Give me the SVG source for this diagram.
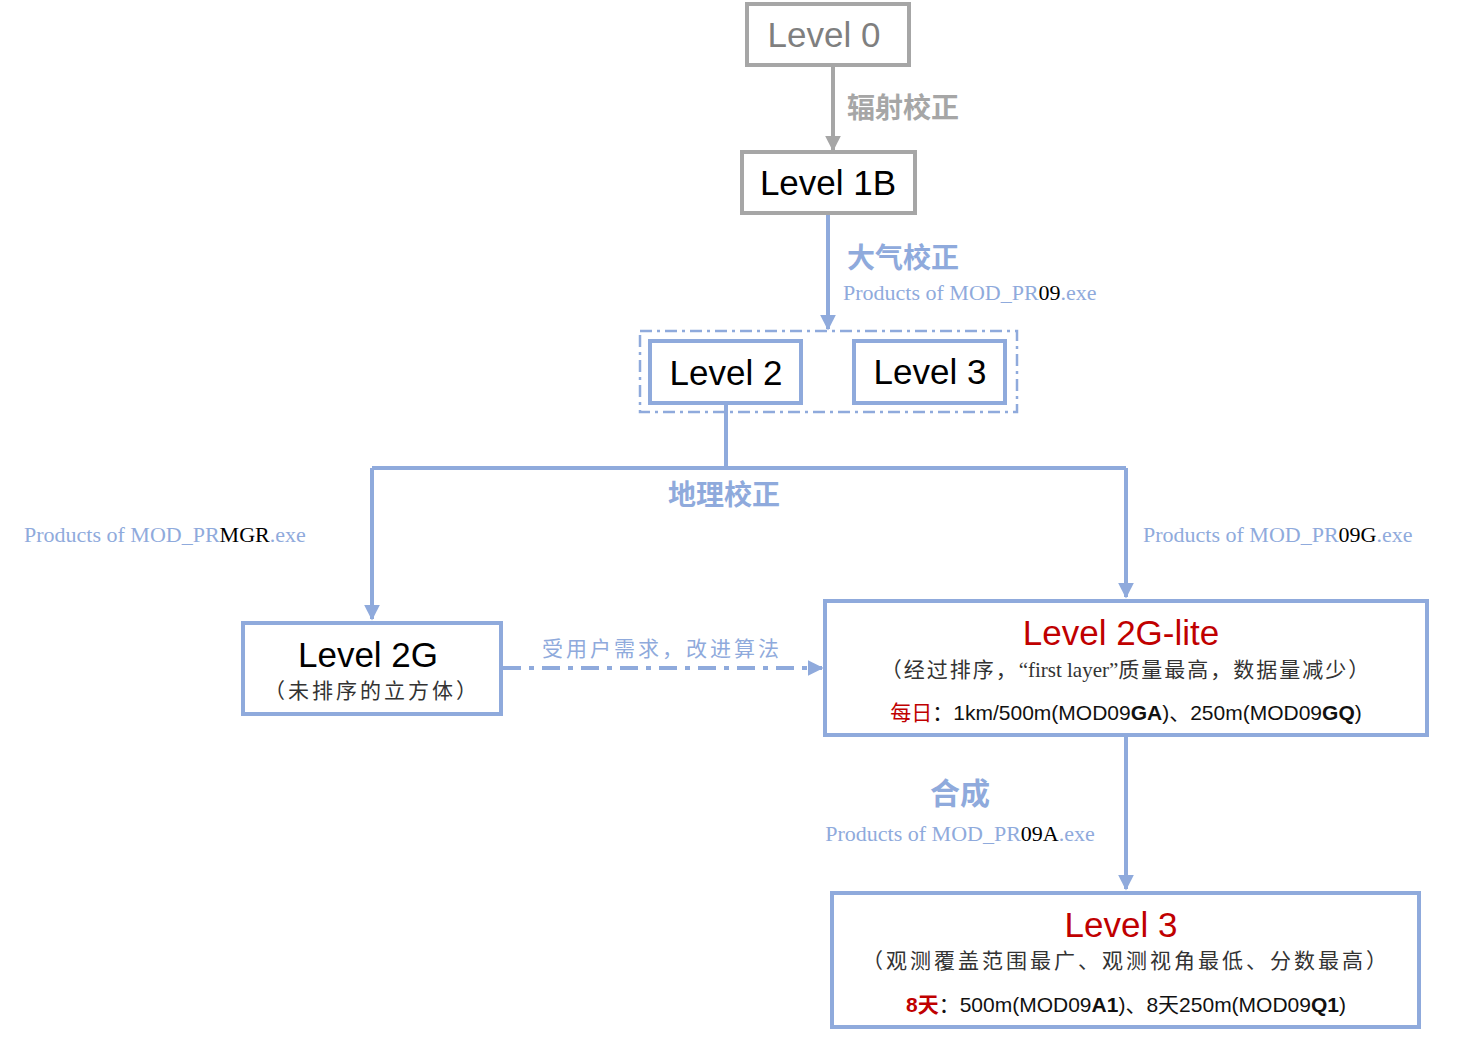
<svg xmlns="http://www.w3.org/2000/svg" width="1473" height="1043" viewBox="0 0 1473 1043">
<style>
.g{fill:#fff;stroke:#a6a6a6;stroke-width:4}
.b{fill:#fff;stroke:#8faadc;stroke-width:4}
.t{font-family:"Liberation Sans",Arial,sans-serif;font-size:35px;text-anchor:middle}
.cj{font-family:"Noto Sans CJK SC",sans-serif}
.s{font-family:"Liberation Serif","Noto Sans CJK SC",serif;font-size:22px;fill:#8faadc}
.ln{fill:none;stroke:#8faadc;stroke-width:4}
.sub{font-family:"Noto Sans CJK SC",sans-serif;font-size:21px;fill:#333;text-anchor:middle}
.m{font-family:"Liberation Sans","Noto Sans CJK SC",sans-serif;font-size:21px;fill:#111;text-anchor:middle}
</style>
<defs>
<marker id="ag" viewBox="0 0 10 10" refX="9" refY="5" markerWidth="4" markerHeight="4" orient="auto"><path d="M0,0L10,5L0,10z" fill="#a6a6a6"/></marker>
<marker id="ab" viewBox="0 0 10 10" refX="9" refY="5" markerWidth="4" markerHeight="4" orient="auto"><path d="M0,0L10,5L0,10z" fill="#8faadc"/></marker>
</defs>
<g id="connectors">
<line x1="833" y1="65" x2="833" y2="150" stroke="#a6a6a6" stroke-width="4" marker-end="url(#ag)"/>
<line x1="828" y1="213" x2="828" y2="329" class="ln" marker-end="url(#ab)"/>
<path d="M726,403V468" class="ln"/>
<path d="M372,468H1126" class="ln"/>
<path d="M372,468V619" class="ln" marker-end="url(#ab)"/>
<path d="M1126,468V597" class="ln" marker-end="url(#ab)"/>
<line x1="503" y1="668" x2="822" y2="668" class="ln" stroke-dasharray="18,8,5,8" marker-end="url(#ab)"/>
<line x1="1126" y1="735" x2="1126" y2="889" class="ln" marker-end="url(#ab)"/>
<text x="847" y="118" class="cj" font-size="28" font-weight="bold" fill="#a6a6a6">辐射校正</text>
<text x="847" y="268" class="cj" font-size="28" font-weight="bold" fill="#8faadc">大气校正</text>
<text x="843" y="300" class="s">Products of MOD_PR<tspan fill="#000">09</tspan>.exe</text>
<text x="724" y="505" class="cj" font-size="28" font-weight="bold" fill="#8faadc" text-anchor="middle">地理校正</text>
<text x="24" y="542" class="s">Products of MOD_PR<tspan fill="#000">MGR</tspan>.exe</text>
<text x="1143" y="542" class="s">Products of MOD_PR<tspan fill="#000">09G</tspan>.exe</text>
<text x="662" y="656" class="cj" font-size="21" fill="#8faadc" text-anchor="middle" letter-spacing="3">受用户需求，改进算法</text>
<text x="960" y="804" class="cj" font-size="30" font-weight="bold" fill="#8faadc" text-anchor="middle">合成</text>
<text x="960" y="841" class="s" text-anchor="middle">Products of MOD_PR<tspan fill="#000">09A</tspan>.exe</text>
</g>
<g id="level0"><rect x="747" y="4" width="162" height="61" class="g"/><text x="824" y="47" class="t" fill="#7f7f7f">Level 0</text></g>
<g id="level1b"><rect x="742" y="152" width="173" height="61" class="g"/><text x="828" y="195" class="t" fill="#000">Level 1B</text></g>
<g id="group23"><rect x="640" y="331" width="377" height="81" fill="none" stroke="#8faadc" stroke-width="2.5" stroke-dasharray="12,5,3,5"/></g>
<g id="level2"><rect x="650" y="341" width="151" height="62" class="b"/><text x="726" y="385" class="t">Level 2</text></g>
<g id="level3a"><rect x="854" y="341" width="151" height="62" class="b"/><text x="930" y="384" class="t">Level 3</text></g>
<g id="level2g"><rect x="243" y="623" width="258" height="91" class="b"/><text x="368" y="667" class="t">Level 2G</text><text x="372" y="698" class="sub" letter-spacing="3">（未排序的立方体）</text></g>
<g id="level2glite"><rect x="825" y="601" width="602" height="134" class="b"/>
<text x="1121" y="645" class="t" fill="#c00000">Level 2G-lite</text>
<text x="1126" y="677" class="sub" letter-spacing="2">（经过排序，<tspan font-family="Liberation Serif" letter-spacing="0">“first layer”</tspan>质量最高，数据量减少）</text>
<text x="1126" y="720" class="m"><tspan fill="#c00000" font-family="Noto Sans CJK SC">每日</tspan>：1km/500m(MOD09<tspan font-weight="bold">GA</tspan>)、250m(MOD09<tspan font-weight="bold">GQ</tspan>)</text></g>
<g id="level3"><rect x="832" y="893" width="587" height="134" class="b"/>
<text x="1121" y="937" class="t" fill="#c00000">Level 3</text>
<text x="1126" y="968" class="sub" letter-spacing="3">（观测覆盖范围最广、观测视角最低、分数最高）</text>
<text x="1126" y="1012" class="m"><tspan fill="#c00000" font-weight="bold">8天</tspan>：500m(MOD09<tspan font-weight="bold">A1</tspan>)、8天250m(MOD09<tspan font-weight="bold">Q1</tspan>)</text></g>
</svg>
